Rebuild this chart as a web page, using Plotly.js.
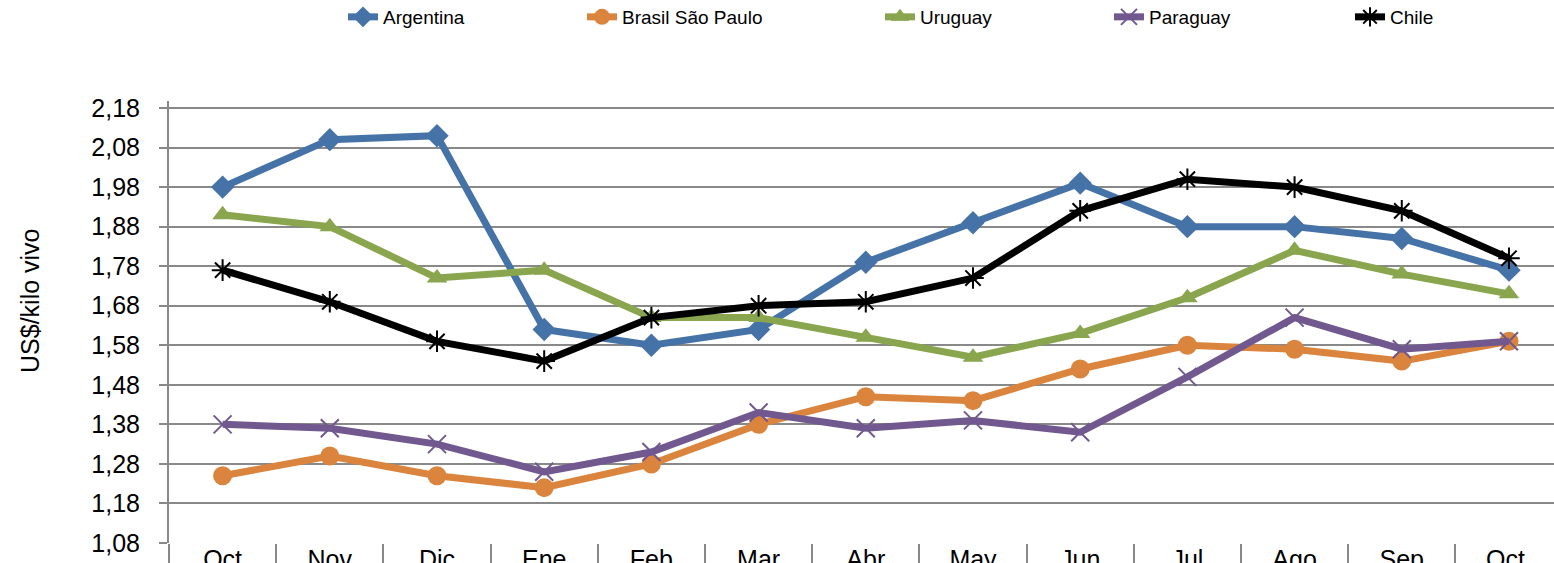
<!DOCTYPE html>
<html>
<head>
<meta charset="utf-8">
<script src="https://cdn.plot.ly/plotly-3.0.1.min.js"></script>
<style>html,body{margin:0;padding:0;background:#fff;}#chart{width:1554px;height:563px;}</style>
</head>
<body>
<div id="chart"></div>
<script>
const months = ["Oct","Nov","Dic","Ene","Feb","Mar","Abr","May","Jun","Jul","Ago","Sep","Oct "];
const argentina = [1.98, 2.10, 2.11, 1.62, 1.58, 1.62, 1.79, 1.89, 1.99, 1.88, 1.88, 1.85, 1.77];
const brasilSaoPaulo = [1.25, 1.30, 1.25, 1.22, 1.28, 1.38, 1.45, 1.44, 1.52, 1.58, 1.57, 1.54, 1.59];
const uruguay = [1.91, 1.88, 1.75, 1.77, 1.65, 1.65, 1.60, 1.55, 1.61, 1.70, 1.82, 1.76, 1.71];
const paraguay = [1.38, 1.37, 1.33, 1.26, 1.31, 1.41, 1.37, 1.39, 1.36, 1.50, 1.65, 1.57, 1.59];
const chile = [1.77, 1.69, 1.59, 1.54, 1.65, 1.68, 1.69, 1.75, 1.92, 2.00, 1.98, 1.92, 1.80];
const seriesNames = ["Argentina", "Brasil São Paulo", "Uruguay", "Paraguay", "Chile"];
const yTitle = "US$/kilo vivo";

const colors = ["#4572A7", "#DB843D", "#89A54E", "#71588F", "#000000"];
const symbols = ["diamond", "circle", "triangle-up", "x-thin-open", "asterisk-open"];
const sizes = [18, 19, 18, 18, 18];
const data = [argentina, brasilSaoPaulo, uruguay, paraguay, chile];
const legendX = [343, 582, 880, 1109, 1350];
const legendIds = ["legend", "legend2", "legend3", "legend4", "legend5"];

const traces = data.map((vals, i) => ({
  type: "scatter",
  mode: "lines+markers",
  name: seriesNames[i],
  x: months,
  y: vals,
  legend: legendIds[i],
  line: {color: colors[i], width: 7},
  marker: {
    symbol: symbols[i],
    size: sizes[i],
    color: colors[i],
    line: {color: colors[i], width: (i >= 3) ? 2 : 0}
  },
  cliponaxis: false,
  hoverinfo: "x+y+name"
}));

const layout = {
  width: 1554, height: 563,
  margin: {l: 169, r: 0, t: 101, b: 20, pad: 0},
  paper_bgcolor: "#ffffff",
  plot_bgcolor: "#ffffff",
  separators: ",.",
  font: {family: "Liberation Sans, Arial, sans-serif", color: "#000000"},
  xaxis: {
    type: "category",
    range: [-0.5, 12.42],
    showgrid: false,
    zeroline: false,
    showline: false,
    tickson: "boundaries",
    ticks: "outside",
    ticklen: 22,
    tickwidth: 2,
    tickcolor: "#898989",
    ticklabelstandoff: -1,
    tickfont: {size: 25, color: "#000000"},
    fixedrange: true
  },
  yaxis: {
    range: [1.08, 2.1977],
    tick0: 1.08,
    dtick: 0.1,
    tickformat: ".2f",
    showgrid: true,
    gridcolor: "#898989",
    gridwidth: 2,
    zeroline: false,
    showline: true,
    linecolor: "#898989",
    linewidth: 2,
    ticks: "outside",
    ticklen: 8,
    tickwidth: 2,
    tickcolor: "#898989",
    ticklabelstandoff: 14,
    tickfont: {size: 25, color: "#000000"},
    automargin: false,
    fixedrange: true
  },
  annotations: [{
    text: yTitle,
    xref: "paper", yref: "paper",
    x: (30 - 169) / 1385, y: (543 - 301) / 442,
    xanchor: "center", yanchor: "middle",
    textangle: -90,
    showarrow: false,
    font: {size: 25, color: "#000000"}
  }],
  showlegend: true
};

legendIds.forEach((id, i) => {
  layout[id] = {
    orientation: "h",
    xref: "container", yref: "container",
    x: legendX[i] / 1554,
    y: 1 - 17 / 563,
    xanchor: "left", yanchor: "middle",
    bgcolor: "rgba(0,0,0,0)",
    borderwidth: 0,
    font: {size: 19, color: "#000000"},
    itemwidth: 30
  };
});

Plotly.newPlot("chart", traces, layout, {displayModeBar: false, staticPlot: true});
</script>
</body>
</html>
